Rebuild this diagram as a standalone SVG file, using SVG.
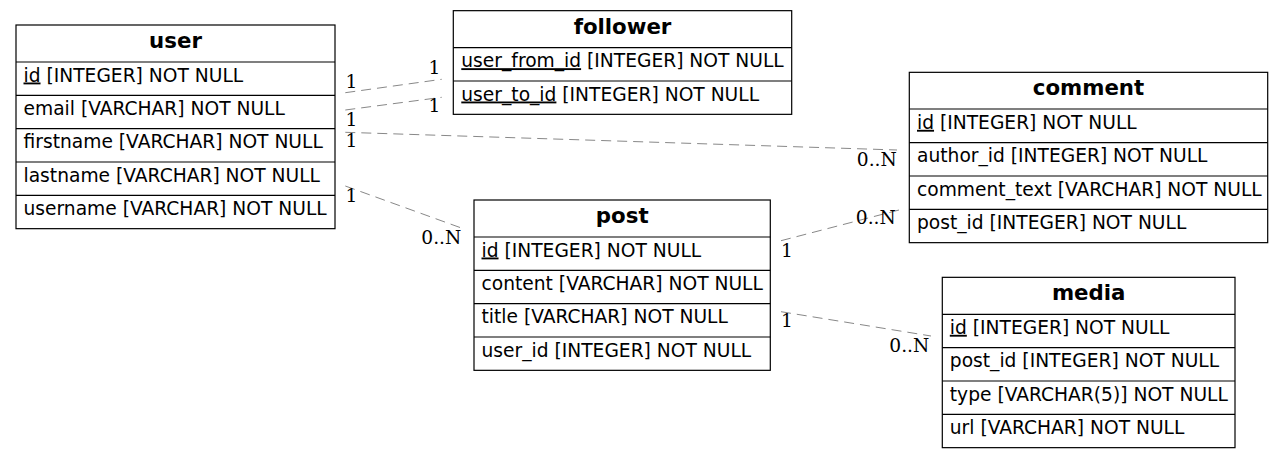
<svg xmlns="http://www.w3.org/2000/svg" width="1284" height="459" viewBox="0 0 1284 459">
<style>
.box{fill:#fff;stroke:#000;stroke-width:1.2}
.sep{stroke:#000;stroke-width:1.2}
.hd{font-family:"DejaVu Sans",sans-serif;font-size:21.3px;font-weight:bold;text-anchor:middle;fill:#000}
.rw{font-family:"DejaVu Sans",sans-serif;font-size:18.67px;fill:#000}
.pk{text-decoration:underline}
.edge{stroke:#888;stroke-width:1;stroke-dasharray:10,6;fill:none}
.lb{font-family:"DejaVu Serif",serif;font-size:18.67px;fill:#000}
</style>
<rect width="1284" height="459" fill="#fff"/>
<g id="connectors">
<line class="edge" x1="345.3" y1="92.7" x2="441.7" y2="79.3"/>
<line class="edge" x1="345.3" y1="110" x2="441.7" y2="97.3"/>
<line class="edge" x1="345.3" y1="132.3" x2="897" y2="150"/>
<line class="edge" x1="345.3" y1="186" x2="460" y2="227.5"/>
<line class="edge" x1="781" y1="240.7" x2="899" y2="210"/>
<line class="edge" x1="781" y1="311.7" x2="931" y2="336"/>
<text class="lb" x="345.5" y="88">1</text>
<text class="lb" x="428.5" y="74.3">1</text>
<text class="lb" x="345.5" y="126">1</text>
<text class="lb" x="428.5" y="112">1</text>
<text class="lb" x="345.5" y="147">1</text>
<text class="lb" x="856.8" y="166">0..N</text>
<text class="lb" x="345.5" y="202">1</text>
<text class="lb" x="421.3" y="244">0..N</text>
<text class="lb" x="781" y="257">1</text>
<text class="lb" x="855.8" y="224">0..N</text>
<text class="lb" x="781" y="327.3">1</text>
<text class="lb" x="889.3" y="352.3">0..N</text>
</g>
<g id="user">
<rect class="box" x="16" y="25" width="319" height="203.67"/>
<line class="sep" x1="16" y1="62" x2="335" y2="62"/>
<line class="sep" x1="16" y1="95.33" x2="335" y2="95.33"/>
<line class="sep" x1="16" y1="128.67" x2="335" y2="128.67"/>
<line class="sep" x1="16" y1="162" x2="335" y2="162"/>
<line class="sep" x1="16" y1="195.33" x2="335" y2="195.33"/>
<text class="hd" x="175.5" y="48">user</text>
<text class="rw" x="23.5" y="81.5"><tspan class="pk">id</tspan> [INTEGER] NOT NULL</text>
<text class="rw" x="23.5" y="114.8">email [VARCHAR] NOT NULL</text>
<text class="rw" x="23.5" y="148.2">firstname [VARCHAR] NOT NULL</text>
<text class="rw" x="23.5" y="181.5">lastname [VARCHAR] NOT NULL</text>
<text class="rw" x="23.5" y="214.8">username [VARCHAR] NOT NULL</text>
</g>
<g id="follower">
<rect class="box" x="453.3" y="10.67" width="338.4" height="103.67"/>
<line class="sep" x1="453.3" y1="47.67" x2="791.7" y2="47.67"/>
<line class="sep" x1="453.3" y1="81" x2="791.7" y2="81"/>
<text class="hd" x="622.5" y="33.5">follower</text>
<text class="rw" x="461.3" y="67.2"><tspan class="pk">user_from_id</tspan> [INTEGER] NOT NULL</text>
<text class="rw" x="461.3" y="100.5"><tspan class="pk">user_to_id</tspan> [INTEGER] NOT NULL</text>
</g>
<g id="comment">
<rect class="box" x="909.3" y="72.33" width="358.4" height="170.33"/>
<line class="sep" x1="909.3" y1="109" x2="1267.7" y2="109"/>
<line class="sep" x1="909.3" y1="142.67" x2="1267.7" y2="142.67"/>
<line class="sep" x1="909.3" y1="176" x2="1267.7" y2="176"/>
<line class="sep" x1="909.3" y1="209.33" x2="1267.7" y2="209.33"/>
<text class="hd" x="1088.5" y="95">comment</text>
<text class="rw" x="917" y="128.8"><tspan class="pk">id</tspan> [INTEGER] NOT NULL</text>
<text class="rw" x="917" y="162.2">author_id [INTEGER] NOT NULL</text>
<text class="rw" x="917" y="195.5">comment_text [VARCHAR] NOT NULL</text>
<text class="rw" x="917" y="228.8">post_id [INTEGER] NOT NULL</text>
</g>
<g id="post">
<rect class="box" x="474" y="200" width="296.3" height="170.33"/>
<line class="sep" x1="474" y1="237" x2="770.3" y2="237"/>
<line class="sep" x1="474" y1="270.33" x2="770.3" y2="270.33"/>
<line class="sep" x1="474" y1="303.67" x2="770.3" y2="303.67"/>
<line class="sep" x1="474" y1="337" x2="770.3" y2="337"/>
<text class="hd" x="622.2" y="223">post</text>
<text class="rw" x="481.5" y="256.5"><tspan class="pk">id</tspan> [INTEGER] NOT NULL</text>
<text class="rw" x="481.5" y="289.8">content [VARCHAR] NOT NULL</text>
<text class="rw" x="481.5" y="323.2">title [VARCHAR] NOT NULL</text>
<text class="rw" x="481.5" y="356.5">user_id [INTEGER] NOT NULL</text>
</g>
<g id="media">
<rect class="box" x="942.3" y="277.33" width="292.7" height="170.33"/>
<line class="sep" x1="942.3" y1="314.33" x2="1235" y2="314.33"/>
<line class="sep" x1="942.3" y1="347.67" x2="1235" y2="347.67"/>
<line class="sep" x1="942.3" y1="381" x2="1235" y2="381"/>
<line class="sep" x1="942.3" y1="414.33" x2="1235" y2="414.33"/>
<text class="hd" x="1088.7" y="300">media</text>
<text class="rw" x="949.8" y="333.8"><tspan class="pk">id</tspan> [INTEGER] NOT NULL</text>
<text class="rw" x="949.8" y="367.2">post_id [INTEGER] NOT NULL</text>
<text class="rw" x="949.8" y="400.5">type [VARCHAR(5)] NOT NULL</text>
<text class="rw" x="949.8" y="433.8">url [VARCHAR] NOT NULL</text>
</g>
</svg>
